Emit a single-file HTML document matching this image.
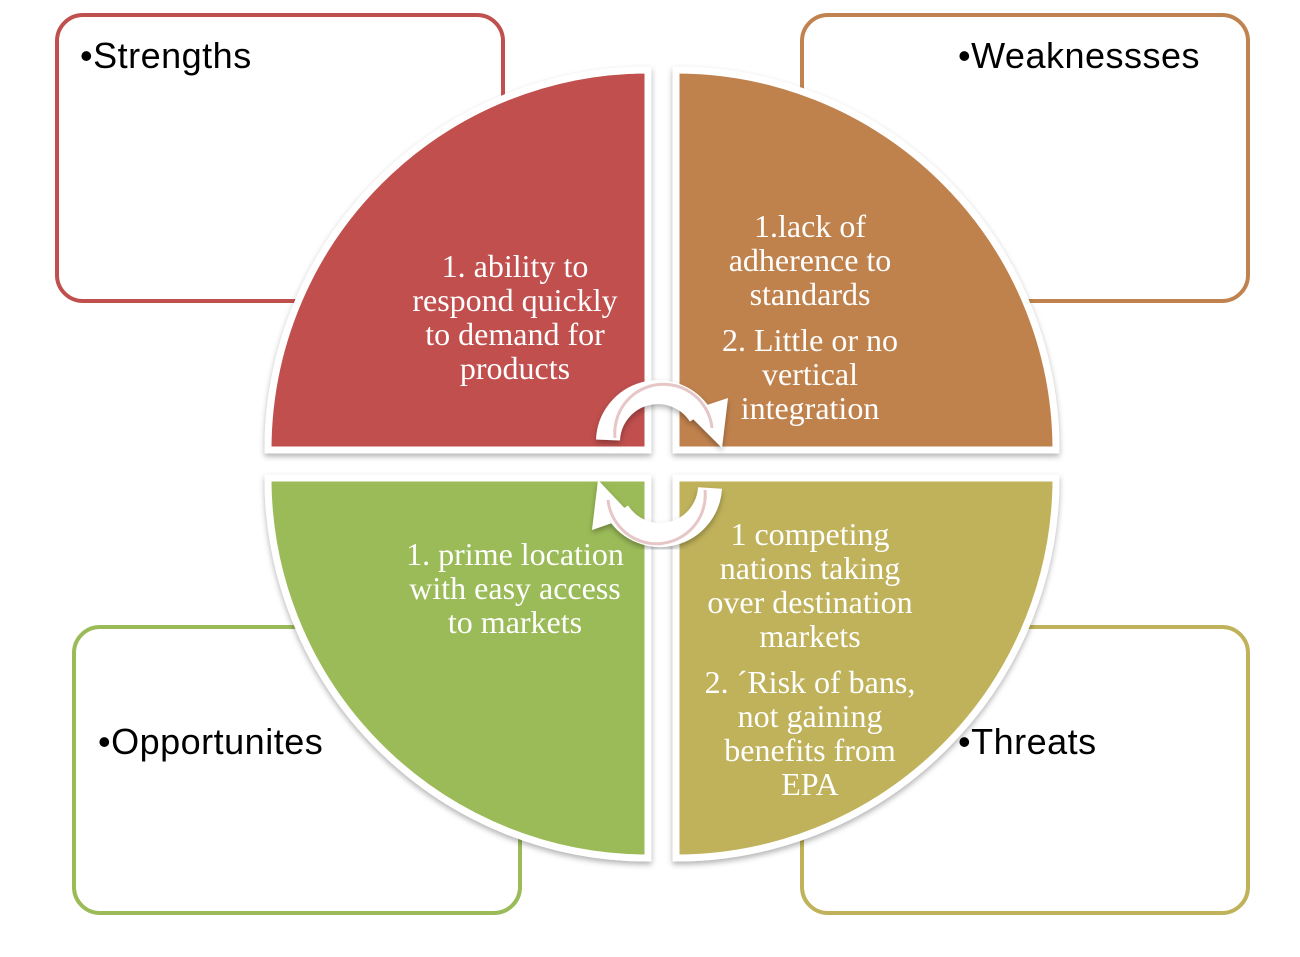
<!DOCTYPE html>
<html><head><meta charset="utf-8"><style>
body{margin:0;background:#fff;width:1300px;height:957px;overflow:hidden;position:relative}
.box{position:absolute;width:442px;height:282px;border:4px solid;border-radius:28px;background:#fff;box-sizing:content-box}
.lbl{position:absolute;font-family:"Liberation Sans",sans-serif;font-size:36px;color:#000;letter-spacing:0.5px}
.t{position:absolute;font-family:"Liberation Serif",serif;font-size:32px;color:#fff;text-align:center;line-height:34px}
</style></head><body>
<div class="box" style="left:55px;top:13px;border-color:#c0504d"></div>
<div class="box" style="left:800px;top:13px;border-color:#c0834f"></div>
<div class="box" style="left:72px;top:625px;border-color:#9bbb59"></div>
<div class="box" style="left:800px;top:625px;border-color:#c0b25a"></div>
<div class="lbl" style="left:80px;top:35px">•Strengths</div>
<div class="lbl" style="left:958px;top:35px">•Weaknessses</div>
<div class="lbl" style="left:98px;top:721px">•Opportunites</div>
<div class="lbl" style="left:958px;top:721px">•Threats</div>
<svg width="1300" height="957" style="position:absolute;left:0;top:0">
<defs><filter id="sh" x="-10%" y="-10%" width="120%" height="120%"><feDropShadow dx="0" dy="3" stdDeviation="3" flood-color="#000" flood-opacity="0.3"/></filter></defs>
<g filter="url(#sh)" stroke="#fff" stroke-width="7">
<path d="M648,450 L268,450 A380,380 0 0 1 648,70 Z" fill="#c0504d"/>
<path d="M676,450 L676,70 A380,380 0 0 1 1056,450 Z" fill="#c0824e"/>
<path d="M648,478 L648,858 A380,380 0 0 1 268,478 Z" fill="#9bbb59"/>
<path d="M676,478 L1056,478 A380,380 0 0 1 676,858 Z" fill="#c0b25a"/>
</g>
<g filter="url(#sh)">
<path d="M608,440 A50,50 0 0 1 700,415" fill="none" stroke="#fff" stroke-width="24"/>
<polygon points="686,412 728,398 722,448" fill="#fff"/>
<path d="M710,488 A50,50 0 0 1 618,512" fill="none" stroke="#fff" stroke-width="24"/>
<polygon points="632,516 592,530 598,480" fill="#fff"/>
</g>
<path d="M615,438 A44,44 0 0 1 712,428" fill="none" stroke="#e6c6c6" stroke-width="3"/>
<path d="M705,490 A44,44 0 0 1 608,500" fill="none" stroke="#e6c6c6" stroke-width="3"/>
</svg>
<div class="t" style="left:385px;top:249px;width:260px">1. ability to<br>respond quickly<br>to demand for<br>products</div>
<div class="t" style="left:680px;top:209px;width:260px">1.lack of<br>adherence to<br>standards</div>
<div class="t" style="left:680px;top:323px;width:260px">2. Little or no<br>vertical<br>integration</div>
<div class="t" style="left:385px;top:537px;width:260px">1. prime location<br>with easy access<br>to markets</div>
<div class="t" style="left:680px;top:517px;width:260px">1 competing<br>nations taking<br>over destination<br>markets</div>
<div class="t" style="left:680px;top:665px;width:260px">2. ´Risk of bans,<br>not gaining<br>benefits from<br>EPA</div>
</body></html>
